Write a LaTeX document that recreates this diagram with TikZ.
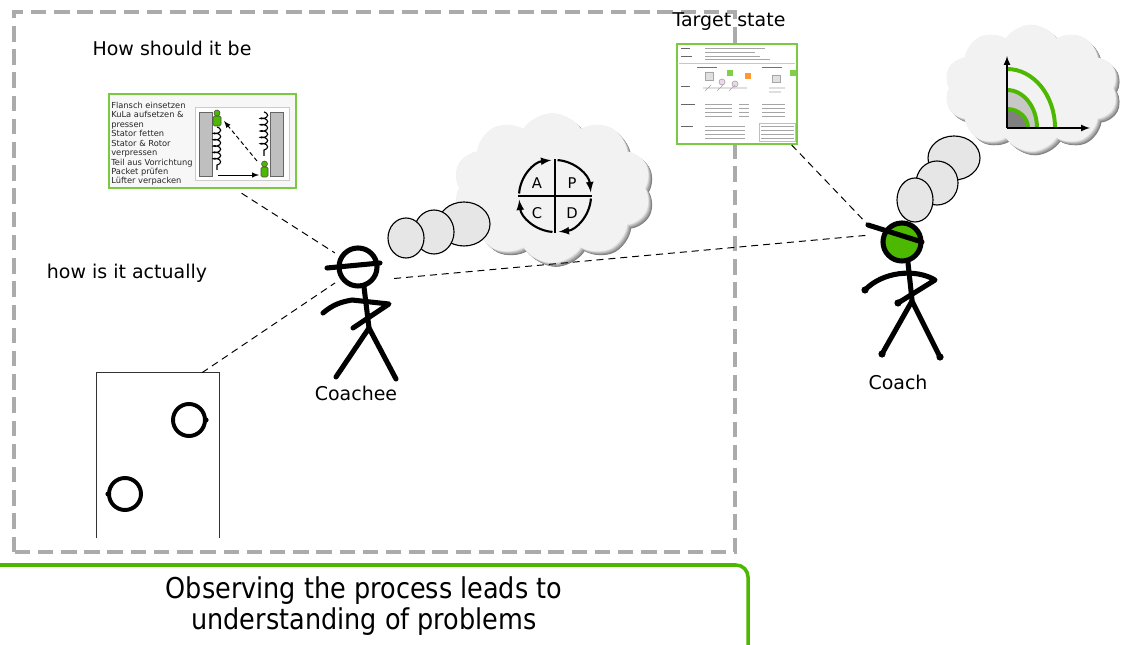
\documentclass[tikz,border=0pt]{standalone}
\usepackage{fontspec}
\setmainfont{DejaVu Sans}
\newfontfamily\narrowsans[FakeStretch=0.89]{DejaVu Sans}
\usetikzlibrary{shapes,decorations.pathmorphing}

\definecolor{leafgreen}{HTML}{4DB800}
\definecolor{framegray}{HTML}{ABABAB}
\definecolor{puffgray}{HTML}{E6E6E6}

\tikzset{
  lbl/.style={font=\fontsize{13.5}{16}\selectfont},
  stick/.style={line width=3.6pt, line cap=round, line join=round},
  head/.style={circle, draw, line width=3.6pt, minimum size=0.95cm, inner sep=0},
  link/.style={dashed, dash pattern=on 5pt off 3.5pt, line width=0.7pt},
  puff/.style={draw, fill=puffgray, line width=0.8pt},
  shot/.style={rectangle, draw=leafgreen!75, line width=1.3pt, inner sep=0},
  thought/.style={cloud, cloud puffs=10, cloud puff arc=115, cloud ignores aspect, inner sep=0},
  sketch/.style={line width=0.45pt, black!35},
}

\begin{document}
\begin{tikzpicture}[x=0.025cm, y=0.025cm]
  \useasboundingbox (0,0) rectangle (1128,644);

  % observed area
  \draw[framegray, line width=2.2pt, dash pattern=on 11pt off 5.5pt] (14,92) rectangle (735,632);

  % thought clouds, darker rim fading to a light middle
  \foreach \k in {0,...,10}{
    \pgfmathsetmacro\tone{52-4.7*\k}
    \node[thought, fill=black!\tone, minimum width=4.95cm-0.065cm*\k,
          minimum height=3.75cm-0.065cm*\k] (pdca\k) at (556-0.4*\k,452+0.4*\k) {};
    \node[thought, fill=black!\tone, minimum width=4.35cm-0.065cm*\k,
          minimum height=3.175cm-0.065cm*\k] (vision\k) at (1035-0.4*\k,552+0.4*\k) {};
  }

  % PDCA wheel
  \begin{scope}[shift={(555,448)}, line width=1.5pt]
    \draw (-37,0) -- (37,0) (0,-37) -- (0,37);
    \foreach \a in {180,90,0,-90}
      \draw[-latex] ({\a-4}:36) arc[start angle=\a-4, end angle=\a-84, radius=36];
    \node[font=\fontsize{10.5}{12}\selectfont] (plan) at (17,13) {P};
    \node[font=\fontsize{10.5}{12}\selectfont] (act) at (-18,13) {A};
    \node[font=\fontsize{10.5}{12}\selectfont] (check) at (-18,-17) {C};
    \node[font=\fontsize{10.5}{12}\selectfont] (do) at (17,-17) {D};
  \end{scope}

  % target condition chart
  \begin{scope}[shift={(1007,516)}]
    \fill[black!22] (0,0) -- (30,0) arc[start angle=0, end angle=90, x radius=30, y radius=38] -- cycle;
    \fill[black!50] (0,0) -- (21,0) arc[start angle=0, end angle=90, x radius=21, y radius=19] -- cycle;
    \draw[leafgreen, line width=2.8pt] (21,0) arc[start angle=0, end angle=90, x radius=21, y radius=19];
    \draw[leafgreen, line width=2.8pt] (30,0) arc[start angle=0, end angle=90, x radius=30, y radius=38];
    \draw[leafgreen, line width=2.8pt] (48,0) arc[start angle=0, end angle=90, x radius=48, y radius=59];
    \draw[-latex, line width=1.2pt] (0,0) -- (0,72);
    \draw[-latex, line width=1.2pt] (0,0) -- (83,0);
  \end{scope}

  % thought bubbles
  \draw[puff] (464,420) ellipse[x radius=26, y radius=22];
  \draw[puff] (434,412) ellipse[x radius=20, y radius=22];
  \draw[puff] (406,406) ellipse[x radius=18, y radius=20];
  \draw[puff] (954,486) ellipse[x radius=26, y radius=22];
  \draw[puff] (937,461) ellipse[x radius=21, y radius=22];
  \draw[puff] (915,444) ellipse[x radius=18, y radius=22];

  % standard work sheet
  \node[shot, fill=black!3, minimum width=4.675cm, minimum height=2.35cm] (shouldimg) at (202.5,503) {};
  \node[anchor=north west, align=left, inner sep=0, text=black!85,
        font=\fontsize{5.9}{6.7}\selectfont] (steps) at (111,542)
    {Flansch einsetzen\\KuLa aufsetzen \&\\pressen\\Stator fetten\\Stator \& Rotor\\verpressen\\Teil aus Vorrichtung\\Packet prüfen\\Lüfter verpacken};
  \draw[black!20, fill=white, line width=0.6pt] (195,464) rectangle (289,537);
  \draw[black!60, fill=black!25, line width=0.5pt] (199,468) rectangle (212,532);
  \draw[black!60, fill=black!25, line width=0.5pt] (270,468) rectangle (283,532);
  \draw[line width=0.8pt, decorate, decoration={coil, aspect=0.45, segment length=4.5pt, amplitude=2.6pt}] (217,517) -- (217,474);
  \draw[line width=0.8pt, decorate, decoration={coil, aspect=0.45, segment length=4.5pt, amplitude=2.6pt}] (264,532) -- (264,488);
  \draw[black!70, fill=leafgreen, line width=0.4pt, rounded corners=1pt] (213,518) rectangle (221,528);
  \draw[black!70, fill=leafgreen, line width=0.4pt] (217,531) circle[radius=3];
  \draw[black!70, fill=leafgreen, line width=0.4pt, rounded corners=1pt] (261,467) rectangle (268,477);
  \draw[black!70, fill=leafgreen, line width=0.4pt] (264.5,480) circle[radius=3];
  \draw[-latex, dashed, dash pattern=on 3pt off 2pt, line width=0.7pt] (257,483) -- (224,523);
  \draw[-latex, line width=0.7pt] (218,469) -- (259,469);

  % target condition sheet
  \node[shot, fill=white, minimum width=3cm, minimum height=2.5cm] (target) at (737,550) {};
  \begin{scope}[shift={(677,600)}]
    \draw[sketch, black!60] (4,-4) -- (13,-4) (4,-12) -- (15,-12) (4,-42) -- (13,-42) (4,-60) -- (18,-60) (4,-82) -- (16,-82);
    \draw[sketch] (28,-4) -- (88,-4) (28,-8) -- (78,-8) (28,-12) -- (83,-12) (28,-15) -- (93,-15);
    \draw[leafgreen!45, line width=0.5pt] (2,-19) -- (118,-19);
    \draw[sketch, black!55] (20,-23) -- (40,-23) (85,-23) -- (105,-23);
    \draw[sketch, fill=black!12] (28,-28) rectangle (36,-36) (95,-31) rectangle (103,-38);
    \draw[sketch, fill=violet!15] (45,-38) circle[radius=3] (58,-40) circle[radius=3];
    \fill[leafgreen!70] (50,-26) rectangle (56,-32);
    \fill[orange!80] (68,-29) rectangle (74,-35);
    \fill[leafgreen!70] (113,-26) rectangle (119,-32);
    \draw[sketch] (26,-44) -- (70,-44) (28,-47) -- (34,-41) (40,-47) -- (46,-41) (52,-47) -- (58,-41) (92,-44) -- (108,-44) (92,-48) -- (104,-48);
    \foreach \r in {60,64,68,72}{
      \draw[sketch] (28,-\r) -- (55,-\r) (62,-\r) -- (72,-\r) (85,-\r) -- (108,-\r);
    }
    \foreach \r in {82,86,90,94}{
      \draw[sketch] (28,-\r) -- (68,-\r) (84,-\r) -- (117,-\r);
    }
    \draw[sketch, black!25] (82,-79) rectangle (118,-97);
  \end{scope}

  % gemba board
  \node[minimum width=3.05cm, minimum height=4.125cm, inner sep=0] (door) at (158,188.5) {};
  \draw[black!80, line width=0.9pt] (door.south west) -- (door.north west) -- (door.north east) -- (door.south east);
  \draw[line width=2.8pt] (189,224) circle[radius=16];
  \fill (206,224) circle[radius=2.6];
  \draw[line width=2.8pt] (125,150) circle[radius=16];
  \fill (108,150) circle[radius=2.6];

  % coachee
  \node[head, fill=white] (cheehead) at (358,377) {};
  \draw[stick] (327,376) -- (380,381);
  \draw[stick] (364,357) -- (369,316);
  \draw[stick] (323,331) to[out=40,in=190] (352,344) -- (389,340) -- (353,316);
  \draw[stick] (336,267) -- (369,316) -- (396,265);

  % coach
  \node[head, fill=leafgreen] (coachhead) at (902,402) {};
  \draw[stick] (868,419) -- (922,402);
  \draw[stick] (908,381) -- (912,344);
  \draw[stick] (865,354) .. controls (882,372) and (915,376) .. (935,364) -- (898,341);
  \draw[stick] (882,290) -- (912,343) -- (940,287);
  \foreach \p in {(865,354),(898,341),(882,290),(940,287)}
    \fill \p circle[radius=3.6];

  % lines of sight
  \draw[link, shorten <=0.2cm, shorten >=0.14cm] (shouldimg.-56) -- (cheehead.149);
  \draw[link, shorten >=0.16cm] (door.62) -- (cheehead.215);
  \draw[link, shorten <=0.48cm, shorten >=0.38cm] (cheehead.-38) -- (coachhead.158);
  \draw[link, shorten >=0.36cm] (target.-43) -- (coachhead.170);

  % labels
  \node[lbl] (should) at (172,596) {How should it be};
  \node[lbl] (actual) at (127,371) {how is it actually};
  \node[lbl] (targetlbl) at (729,622) {Target state};
  \node[lbl] (coachee) at (356,251) {Coachee};
  \node[lbl] (coach) at (898,262) {Coach};

  % key message
  \draw[leafgreen, line width=2.5pt, rounded corners=0.3cm] (-20,-20) rectangle (748,79);
  \node[font=\narrowsans\fontsize{20.4}{22}\selectfont, align=center] (lesson) at (364,38)
    {Observing the process leads to\\understanding of problems};
\end{tikzpicture}
\end{document}
